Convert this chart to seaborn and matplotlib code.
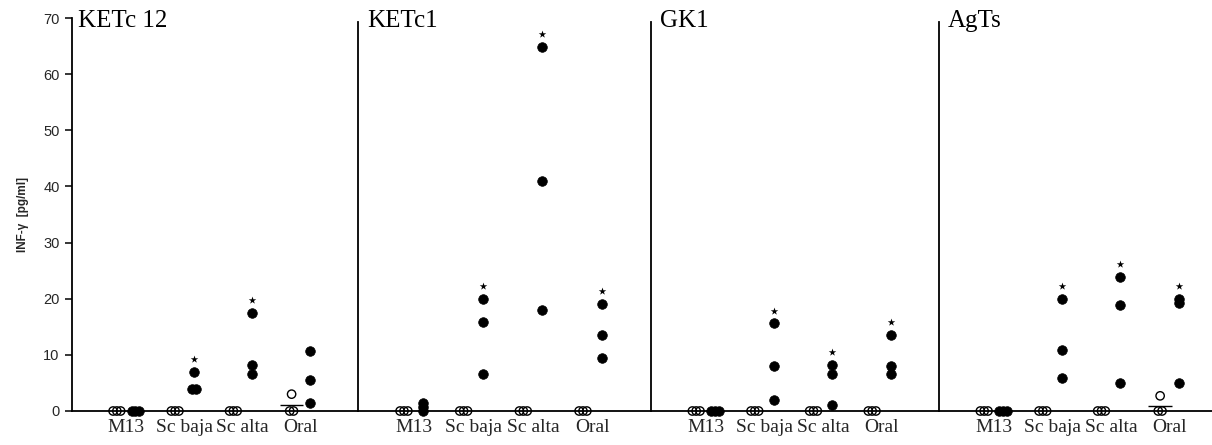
import numpy as np
import pandas as pd
import matplotlib
matplotlib.use("Agg")
import matplotlib.pyplot as plt
import seaborn as sns

# ---------------- data ----------------
panels = ["KETc 12", "KETc1", "GK1", "AgTs"]
groups = ["M13", "Sc baja", "Sc alta", "Oral"]

ketc12_control = [[0, 0, 0], [0, 0, 0], [0, 0, 0], [3.0, 0, 0]]
ketc12_immune = [[0, 0, 0], [7.0, 4.0, 4.0], [17.5, 8.2, 6.6], [10.6, 5.6, 1.4]]
ketc12_signif = [False, True, True, False]

ketc1_control = [[0, 0, 0], [0, 0, 0], [0, 0, 0], [0, 0, 0]]
ketc1_immune = [[1.5, 0.7, 0.0], [20.0, 15.9, 6.6], [64.8, 40.9, 18.0], [19.0, 13.5, 9.5]]
ketc1_signif = [False, True, True, True]

gk1_control = [[0, 0, 0], [0, 0, 0], [0, 0, 0], [0, 0, 0]]
gk1_immune = [[0, 0, 0], [15.6, 8.1, 2.0], [8.2, 6.6, 1.1], [13.5, 8.1, 6.6]]
gk1_signif = [False, True, True, True]

agts_control = [[0, 0, 0], [0, 0, 0], [0, 0, 0], [2.7, 0, 0]]
agts_immune = [[0, 0, 0], [20.0, 10.9, 5.8], [23.9, 18.9, 5.0], [19.9, 19.3, 5.0]]
agts_signif = [False, True, True, True]

y_ticks = [0, 10, 20, 30, 40, 50, 60, 70]
y_label = "INF-\u03b3  [pg/ml]"

controls = [ketc12_control, ketc1_control, gk1_control, agts_control]
immunes = [ketc12_immune, ketc1_immune, gk1_immune, agts_immune]
signifs = [ketc12_signif, ketc1_signif, gk1_signif, agts_signif]

# ---------------- style ----------------
sns.set_theme(style="white")
plt.rcParams["font.family"] = ["Liberation Serif", "DejaVu Serif"]

HUE_OFF = 0.16
DUP_STEP = 0.065
STAR_GAP = 2.3


def to_frame(vals_by_group, side):
    rows = []
    for gi, vals in enumerate(vals_by_group):
        counts = {}
        for v in vals:
            counts[v] = counts.get(v, 0) + 1
        seen = {}
        for v in vals:
            n = counts[v]
            k = seen.get(v, 0)
            seen[v] = k + 1
            x = gi + side * HUE_OFF + (k - (n - 1) / 2) * DUP_STEP
            rows.append({"x": x, "y": v, "group": groups[gi]})
    return pd.DataFrame(rows)


W, H = 1212, 445
bounds = [72, 358, 651, 939, 1227]
top_px, bot_px = 18, 411

fig = plt.figure(figsize=(W / 100, H / 100), dpi=100)

for i, name in enumerate(panels):
    ax = fig.add_axes([bounds[i] / W, (H - bot_px) / H,
                       (bounds[i + 1] - bounds[i]) / W, (bot_px - top_px) / H])
    ax.set_facecolor("white")
    ax.patch.set_alpha(0)

    dfc = to_frame(controls[i], -1)
    dfi = to_frame(immunes[i], +1)

    sns.scatterplot(data=dfc, x="x", y="y", ax=ax, s=36, marker="o",
                    facecolor="none", edgecolor="black", linewidth=1.0,
                    clip_on=False, zorder=4, legend=False)
    sns.scatterplot(data=dfi, x="x", y="y", ax=ax, s=48, marker="o",
                    color="black", edgecolor="black", linewidth=0.5,
                    clip_on=False, zorder=4, legend=False)

    # mean lines for control groups
    for gi, vals in enumerate(controls[i]):
        m = float(np.mean(vals))
        if m > 0:
            ax.hlines(m, gi - HUE_OFF - 0.2, gi - HUE_OFF + 0.2,
                      color="black", linewidth=1.0, zorder=3)

    # significance stars
    for gi, sig in enumerate(signifs[i]):
        if sig:
            ymax = max(immunes[i][gi])
            ax.scatter([gi + HUE_OFF], [ymax + STAR_GAP], marker="*", s=32,
                       color="black", linewidths=0, zorder=5, clip_on=False)

    ax.set_xlim(-0.93, 3.98)
    ax.set_ylim(0, 70)
    ax.set_xticks(range(len(groups)))
    ax.set_xticklabels(groups, fontsize=14, family=["Liberation Serif"])
    ax.tick_params(axis="x", length=0, pad=6)

    for sp in ["top", "right"]:
        ax.spines[sp].set_visible(False)
    ax.spines["bottom"].set_linewidth(1.3)
    ax.spines["bottom"].set_color("black")
    ax.spines["left"].set_linewidth(1.3)
    ax.spines["left"].set_color("black")
    ax.set_xlabel("")
    ax.grid(False)

    if i == 0:
        ax.set_yticks(y_ticks)
        ax.set_yticklabels([str(t) for t in y_ticks], fontsize=10.5,
                           family=["Liberation Sans"])
        ax.tick_params(axis="y", direction="out", length=5, width=1.1,
                       color="black", pad=4, left=True)
        ax.set_ylabel(y_label, fontsize=8.5, fontweight="bold",
                      family=["Liberation Sans", "DejaVu Sans"], labelpad=10)
    else:
        ax.spines["left"].set_bounds(0, 69.3)
        ax.tick_params(axis="y", left=False, labelleft=False)
        ax.set_ylabel("")

    xoff = 6 if i == 0 else 9
    ax.annotate(name, xy=(0, 70), xycoords=("axes fraction", "data"),
                xytext=(xoff * 0.72, -2.5), textcoords="offset points",
                ha="left", va="center", fontsize=18,
                family=["Liberation Serif"], color="black")

fig.savefig("out.png", dpi=100)
